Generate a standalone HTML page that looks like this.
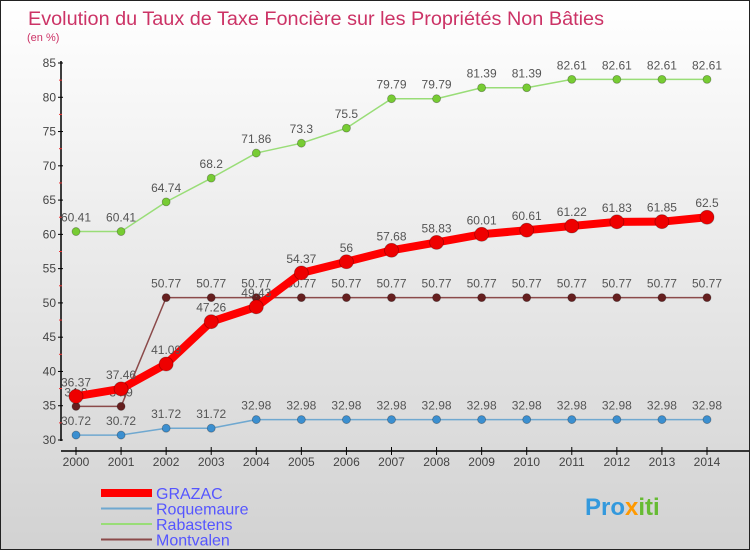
<!DOCTYPE html>
<html><head><meta charset="utf-8"><style>
html,body{margin:0;padding:0}
body{width:750px;height:550px;overflow:hidden;font-family:"Liberation Sans",sans-serif}
#wrap{position:relative;width:748px;height:548px;border:1px solid #222;background:linear-gradient(#ffffff,#d2d2d2)}
text{font-family:"Liberation Sans",sans-serif}
</style></head><body>
<div id="wrap">
<svg id="chart" width="748" height="548">
<text x="27" y="24" font-size="19" fill="#cc3366" textLength="576" lengthAdjust="spacingAndGlyphs">Evolution du Taux de Taxe Foncière sur les Propriétés Non Bâties</text>
<text x="26" y="40" font-size="11" fill="#cc3366">(en %)</text>
<g id="axes"></g><g id="series"></g><g id="legend"></g>
<text x="584" y="514" font-size="24" font-weight="bold" fill="#3399dd">Pro<tspan fill="#ff9900">x</tspan><tspan fill="#66bb33">iti</tspan></text>
</svg></div>
<script>
const years=[2000,2001,2002,2003,2004,2005,2006,2007,2008,2009,2010,2011,2012,2013,2014];
const grazac=[36.37,37.46,41.09,47.26,49.43,54.37,56,57.68,58.83,60.01,60.61,61.22,61.83,61.85,62.5];
const roquemaure=[30.72,30.72,31.72,31.72,32.98,32.98,32.98,32.98,32.98,32.98,32.98,32.98,32.98,32.98,32.98];
const rabastens=[60.41,60.41,64.74,68.2,71.86,73.3,75.5,79.79,79.79,81.39,81.39,82.61,82.61,82.61,82.61];
const montvalen=[34.9,34.9,50.77,50.77,50.77,50.77,50.77,50.77,50.77,50.77,50.77,50.77,50.77,50.77,50.77];
const yTicks=[30,35,40,45,50,55,60,65,70,75,80,85];
const NS="http://www.w3.org/2000/svg";
const xS=i=>75+i*(631/14);
const yS=v=>439-(v-30)*(377/55);
function mk(p,t,a){const e=document.createElementNS(NS,t);for(const k in a)e.setAttribute(k,a[k]);p.appendChild(e);return e;}
const ax=document.getElementById('axes');
let l=mk(ax,'line',{x1:60,y1:60,x2:60,y2:440,stroke:'#000','stroke-width':1.5});


l=mk(ax,'line',{x1:60,y1:450,x2:748,y2:450,stroke:'#000','stroke-width':1.5});


yTicks.forEach(v=>{
 const y=yS(v);
 mk(ax,'line',{x1:57,y1:y,x2:62,y2:y,stroke:'#000'});
 if(v<85)mk(ax,'line',{x1:58,y1:yS(v+2.5),x2:61,y2:yS(v+2.5),stroke:'#e33'});
 const t=mk(ax,'text',{x:55,y:y+4,'font-size':12,'text-anchor':'end',fill:'#444'});
 t.textContent=v;
 
 
});
years.forEach((yr,i)=>{
 const x=xS(i);
 mk(ax,'line',{x1:x,y1:446,x2:x,y2:454,stroke:'#000'});
 const t=mk(ax,'text',{x:x,y:465,'font-size':12,'text-anchor':'middle',fill:'#444'});
 t.textContent=yr;
 
 
});
const sg=document.getElementById('series');
function series(name,vals,color,w,r,dot){
 const g=mk(sg,'g',{});
 
 
 const pl=mk(g,'polyline',{points:vals.map((v,i)=>xS(i)+','+yS(v)).join(' '),fill:'none',stroke:color,'stroke-width':w,'stroke-linejoin':'round'});
 
 
 vals.forEach((v,i)=>{
  const c=mk(g,'circle',{cx:xS(i),cy:yS(v),r:r,fill:dot,stroke:'rgba(0,0,0,0.3)','stroke-width':0.8});
  
  
  const t=mk(g,'text',{x:xS(i),y:yS(v)-10,'font-size':12,'text-anchor':'middle',fill:'#555'});
  t.textContent=v;
  
  
 });
}
series('roquemaure',roquemaure,'#6fa8d0',1.5,4,'#3b8fd0');
series('rabastens',rabastens,'#99dd77',1.5,4,'#77cc33');
series('montvalen',montvalen,'#8b4a4a',1.5,4,'#661f1f');
series('grazac',grazac,'#ff0000',8,7,'#ee0000');
const lg=document.getElementById('legend');
const items=[['GRAZAC','#ff0000',8],['Roquemaure','#6fa8d0',2],['Rabastens','#99dd77',2],['Montvalen','#8b4a4a',2]];
items.forEach((it,i)=>{
 const y=493+i*15.5;
 const g=mk(lg,'g',{});
 
 
 mk(g,'line',{x1:100,y1:y-1,x2:151,y2:y-1,stroke:it[1],'stroke-width':it[2]});
 const t=mk(g,'text',{x:155,y:y+5,'font-size':16,fill:'#5555ff'});
 t.textContent=it[0];
});
</script>
</body></html>
